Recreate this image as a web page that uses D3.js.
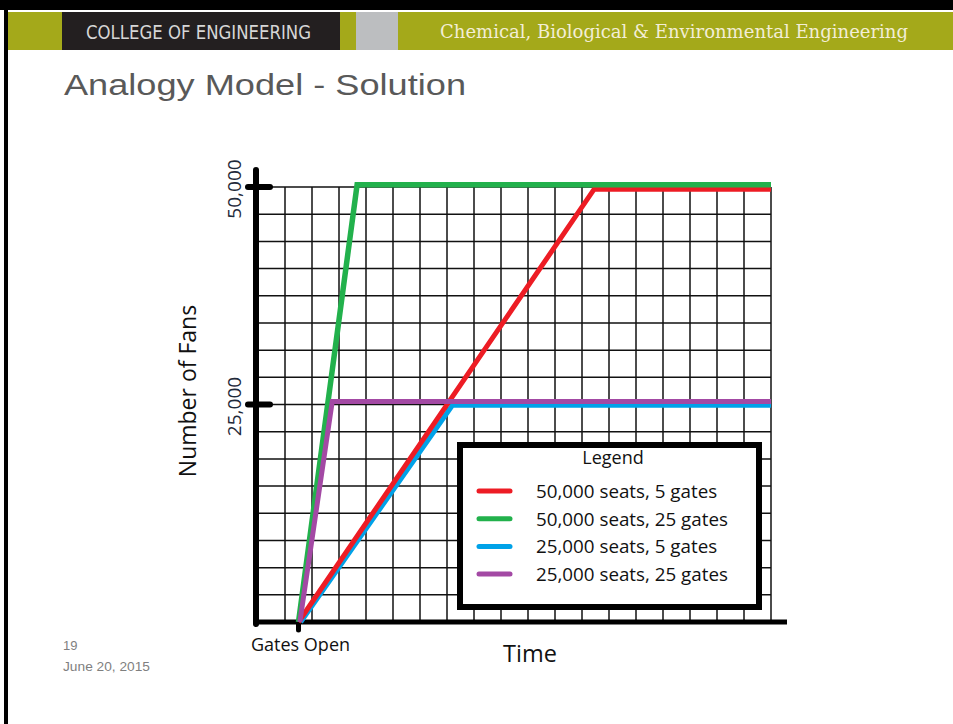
<!DOCTYPE html>
<html>
<head>
<meta charset="utf-8">
<script src="https://cdn.jsdelivr.net/npm/d3@7"></script>
<style>
  body { margin: 0; background: #fff; }
  svg { display: block; }
</style>
</head>
<body>
<svg width="953" height="724"></svg>
<script>
// chart values (time in grid cells, fans in people)
const seriesNames = ['50,000 seats, 5 gates', '50,000 seats, 25 gates', '25,000 seats, 5 gates', '25,000 seats, 25 gates'];
const seriesColors = ['#ed1c24', '#22b14c', '#00a2e8', '#a349a4'];
const redPts = [[1.5, 0], [12.45, 49750], [19, 49750]];
const greenPts = [[1.5, 0], [3.67, 50250], [19, 50250]];
const bluePts = [[1.58, 0], [7.2, 24900], [19, 24900]];
const purplePts = [[1.55, 0], [2.75, 25350], [19, 25350]];
const yTicks = [25000, 50000];
const gatesOpen = 1.5;

const svg = d3.select('svg');
const width = +svg.attr('width');
const height = +svg.attr('height');

/////////////// slide frame ///////////////
svg.append('rect').attr('x', 0).attr('y', 0).attr('width', width).attr('height', 10).attr('fill', '#000');
svg.append('rect').attr('x', 4).attr('y', 0).attr('width', 4).attr('height', height).attr('fill', '#000');
svg.append('rect').attr('x', 8).attr('y', 12).attr('width', width - 8).attr('height', 38).attr('fill', '#a4a91a');
svg.append('rect').attr('x', 62).attr('y', 12).attr('width', 278).attr('height', 38).attr('fill', '#231f20');
svg.append('rect').attr('x', 356).attr('y', 12).attr('width', 42).attr('height', 38).attr('fill', '#bcbec0');

svg.append('text').attr('x', 86).attr('y', 39)
    .attr('font-family', '"Liberation Sans Narrow", "DejaVu Sans Condensed", sans-serif')
    .attr('font-size', 20).attr('fill', '#d6d6d6')
    .attr('textLength', 225).attr('lengthAdjust', 'spacingAndGlyphs')
    .text('COLLEGE OF ENGINEERING');
svg.append('text').attr('x', 440).attr('y', 38)
    .attr('font-family', '"DejaVu Serif Condensed", "Liberation Serif", serif')
    .attr('font-size', 19).attr('fill', '#f3eed6')
    .attr('textLength', 468).attr('lengthAdjust', 'spacingAndGlyphs')
    .text('Chemical, Biological & Environmental Engineering');

svg.append('text').attr('x', 64).attr('y', 95)
    .attr('font-family', '"Liberation Sans", Arial, sans-serif')
    .attr('font-size', 30).attr('fill', '#595959')
    .attr('textLength', 402).attr('lengthAdjust', 'spacingAndGlyphs')
    .text('Analogy Model - Solution');

svg.append('text').attr('x', 63).attr('y', 650)
    .attr('font-family', '"Liberation Sans", Arial, sans-serif')
    .attr('font-size', 13).attr('fill', '#7f7f7f').text('19');
svg.append('text').attr('x', 63).attr('y', 671)
    .attr('font-family', '"Liberation Sans", Arial, sans-serif')
    .attr('font-size', 13).attr('fill', '#7f7f7f')
    .attr('textLength', 87).attr('lengthAdjust', 'spacingAndGlyphs')
    .text('June 20, 2015');

/////////////// chart ///////////////
const xScale = d3.scaleLinear().domain([0, 19]).range([258, 771]);
const yScale = d3.scaleLinear().domain([0, 50000]).range([622, 187]);
const font = '"Open Sans", "Noto Sans", sans-serif';

// grid
const g = svg.append('g');
g.selectAll('line.v').data(d3.range(0, 20)).enter().append('line')
    .attr('x1', d => xScale(d)).attr('x2', d => xScale(d))
    .attr('y1', yScale(0)).attr('y2', yScale(50000))
    .attr('stroke', '#111').attr('stroke-width', 1.5);
g.selectAll('line.h').data(d3.range(0, 50001, 3125)).enter().append('line')
    .attr('x1', xScale(0)).attr('x2', xScale(19))
    .attr('y1', d => yScale(d)).attr('y2', d => yScale(d))
    .attr('stroke', '#111').attr('stroke-width', 1.5);

// legend box (covers the grid)
const legend = svg.append('g');
legend.append('rect').attr('x', 460).attr('y', 445).attr('width', 299).attr('height', 162)
    .attr('fill', '#fff').attr('stroke', '#000').attr('stroke-width', 6);
legend.append('text').attr('x', 613).attr('y', 464).attr('text-anchor', 'middle')
    .attr('font-family', font).attr('font-size', 18).attr('fill', '#111').text('Legend');
const rows = legend.selectAll('g.row').data(seriesNames).enter().append('g')
    .attr('transform', (d, i) => `translate(0, ${491 + i * 27.7})`);
rows.append('line').attr('x1', 479).attr('x2', 510).attr('y1', 0).attr('y2', 0)
    .attr('stroke', (d, i) => seriesColors[i]).attr('stroke-width', 5).attr('stroke-linecap', 'round');
rows.append('text').attr('x', 536).attr('y', 7)
    .attr('font-family', font).attr('font-size', 18.8).attr('fill', '#111').text(d => d);

// axes
svg.append('line').attr('x1', 256).attr('x2', 256).attr('y1', 624).attr('y2', 170)
    .attr('stroke', '#000').attr('stroke-width', 6).attr('stroke-linecap', 'round');
svg.append('line').attr('x1', 254).attr('x2', 787).attr('y1', 622).attr('y2', 622)
    .attr('stroke', '#000').attr('stroke-width', 5);
svg.selectAll('line.ytick').data(yTicks).enter().append('line')
    .attr('x1', 248).attr('x2', 270)
    .attr('y1', d => yScale(d)).attr('y2', d => yScale(d))
    .attr('stroke', '#000').attr('stroke-width', 6).attr('stroke-linecap', 'round');
svg.append('line').attr('x1', xScale(gatesOpen)).attr('x2', xScale(gatesOpen))
    .attr('y1', 622).attr('y2', 630)
    .attr('stroke', '#000').attr('stroke-width', 5).attr('stroke-linecap', 'round');

svg.selectAll('text.ytick').data(yTicks).enter().append('text')
    .attr('transform', d => `translate(241, ${yScale(d) + 2}) rotate(-90)`)
    .attr('text-anchor', 'middle')
    .attr('font-family', font).attr('font-size', 19).attr('fill', '#1f2a3a')
    .text(d3.format(','));

svg.append('text').attr('transform', 'translate(196, 391) rotate(-90)')
    .attr('text-anchor', 'middle')
    .attr('font-family', font).attr('font-size', 23).attr('fill', '#111').text('Number of Fans');
svg.append('text').attr('x', 251).attr('y', 651)
    .attr('font-family', font).attr('font-size', 18).attr('fill', '#111').text('Gates Open');
svg.append('text').attr('x', 503).attr('y', 662)
    .attr('font-family', font).attr('font-size', 23.5).attr('fill', '#111').text('Time');

// series lines
const line = d3.line().x(d => xScale(d[0])).y(d => yScale(d[1]));
const drawOrder = [[bluePts, 2], [redPts, 0], [greenPts, 1], [purplePts, 3]];
drawOrder.forEach(([pts, i]) => {
    svg.append('path').datum(pts)
        .attr('d', line)
        .attr('fill', 'none')
        .attr('stroke', seriesColors[i])
        .attr('stroke-width', i === 1 ? 5.5 : 5)
        .attr('stroke-linejoin', 'miter');
});
</script>
</body>
</html>
